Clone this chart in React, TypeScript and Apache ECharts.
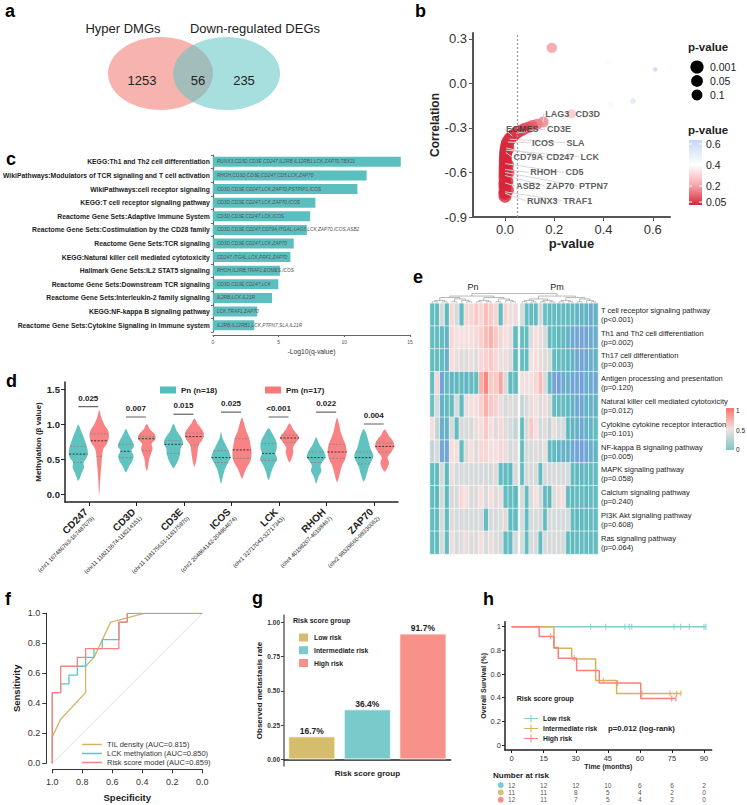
import React, { useEffect, useRef, useMemo } from "react";
import * as echarts from "echarts";

const W = 747;
const H = 805;
const FONT = "'Liberation Sans', Arial, Helvetica, sans-serif";

// ---------------- Panel a : Venn ----------------
const vennSetNames = ["Hyper DMGs", "Down-regulated DEGs"];
const vennCounts = [1253, 56, 235];

// ---------------- Panel b : correlation vs p-value ----------------
const bOtherP = [0.19, 0.42, 0.61, 0.43, 0.52];
const bOtherR = [0.24, 0.15, 0.095, -0.145, -0.118];
const bCurveP = [0.13, 0.11, 0.095, 0.08, 0.068, 0.055, 0.037, 0.024, 0.015, 0.009, 0.007, 0.012, 0.002, 0.0015, 0.001, 0.01, 0.0006, 0.012, 0.0001, 0.008, 0, 0, 0.01, 0];
const bCurveR = [-0.275, -0.285, -0.295, -0.305, -0.315, -0.325, -0.345, -0.365, -0.385, -0.405, -0.42, -0.44, -0.48, -0.5, -0.52, -0.55, -0.56, -0.6, -0.64, -0.66, -0.68, -0.7, -0.72, -0.76];
const bGenes = ["LAG3", "CD3D", "EOMES", "CD3E", "ICOS", "SLA", "CD79A", "CD247", "LCK", "RHOH", "CD5", "ASB2", "ZAP70", "PTPN7", "RUNX3", "TRAF1"];
const bGeneP = [0.155, 0.27, 0.03, 0.045, 0.012, 0.019, 0.003, 0.005, 0.004, 0.0004, 0.001, 0.0001, 0.0002, 0.0003, 0, 0];
const bGeneR = [-0.26, -0.205, -0.355, -0.335, -0.395, -0.375, -0.465, -0.435, -0.45, -0.58, -0.54, -0.67, -0.62, -0.6, -0.74, -0.73];
const bLabelP = [0.163, 0.286, 0.004, 0.17, 0.109, 0.249, 0.034, 0.167, 0.306, 0.102, 0.245, 0.045, 0.167, 0.3, 0.089, 0.236];
const bLabelR = [-0.205, -0.205, -0.307, -0.307, -0.4, -0.4, -0.495, -0.495, -0.495, -0.6, -0.6, -0.69, -0.69, -0.69, -0.79, -0.79];
const bSizeLegend = ["0.001", "0.05", "0.1"];
const bColorTicks = [0.6, 0.4, 0.2, 0.05];

// ---------------- Panel c : enrichment bars ----------------
const cPathways = [
  "KEGG:Th1 and Th2 cell differentiation",
  "WikiPathways:Modulators of TCR signaling and T cell activation",
  "WikiPathways:cell receptor signaling",
  "KEGG:T cell receptor signaling pathway",
  "Reactome Gene Sets:Adaptive Immune System",
  "Reactome Gene Sets:Costimulation by the CD28 family",
  "Reactome Gene Sets:TCR signaling",
  "KEGG:Natural killer cell mediated cytotoxicity",
  "Hallmark Gene Sets:IL2 STAT5 signaling",
  "Reactome Gene Sets:Downstream TCR signaling",
  "Reactome Gene Sets:Interleukin-2 family signaling",
  "KEGG:NF-kappa B signaling pathway",
  "Reactome Gene Sets:Cytokine Signaling in Immune system",
];
const cLogQ = [14.3, 11.7, 11.0, 7.8, 7.4, 7.15, 6.15, 5.9, 5.1, 4.98, 4.5, 3.37, 3.15];
const cGeneLists = [
  "RUNX3,CD3D,CD3E,CD247,IL2RB,IL12RB1,LCK,ZAP70,TBX21",
  "RHOH,CD3D,CD3E,CD247,CD5,LCK,ZAP70",
  "CD3D,CD3E,CD247,LCK,ZAP70,PSTPIP1,ICOS",
  "CD3D,CD3E,CD247,LCK,ZAP70,ICOS",
  "CD3D,CD3E,CD247,LCK,ICOS",
  "CD3D,CD3E,CD247,CD79A,ITGAL,LAG3,LCK,ZAP70,ICOS,ASB2",
  "CD3D,CD3E,CD247,LCK,ZAP70",
  "CD247,ITGAL,LCK,PRF1,ZAP70",
  "RHOH,IL2RB,TRAF1,EOMES,ICOS",
  "CD3D,CD3E,CD247,LCK",
  "IL2RB,LCK,IL21R",
  "LCK,TRAF1,ZAP70",
  "IL2RB,IL12RB1,LCK,PTPN7,SLA,IL21R",
];

// ---------------- Panel d : violins ----------------
const dGenes = ["CD247", "CD3D", "CD3E", "ICOS", "LCK", "RHOH", "ZAP70"];
const dRegions = [
  "(chr1 167486793-167487079)",
  "(chr11 118213674-118214151)",
  "(chr11 118175631-118175870)",
  "(chr2 204864142-204864674)",
  "(chr1 32717043-32717343)",
  "(chr4 40198207-40198467)",
  "(chr2 98329660-98330062)",
];
const dPLabels = ["0.025", "0.007", "0.015", "0.025", "<0.001", "0.022", "0.004"];
const dBracketY = [1.247, 1.1, 1.14, 1.17, 1.1, 1.17, 1.0];
const dBracketGray = [false, true, false, false, true, false, true];
const dPnProfiles = [
  [[0.99, 0], [0.9, 0.3], [0.8, 0.6], [0.7, 0.85], [0.6, 1.0], [0.52, 0.9], [0.45, 0.55], [0.38, 0.6], [0.3, 0.35], [0.19, 0]],
  [[0.93, 0], [0.85, 0.3], [0.75, 0.7], [0.68, 0.85], [0.62, 0.55], [0.55, 0.8], [0.48, 0.7], [0.4, 0.35], [0.31, 0]],
  [[1.0, 0], [0.9, 0.35], [0.8, 0.85], [0.72, 1.0], [0.65, 0.75], [0.58, 0.7], [0.5, 0.55], [0.43, 0.3], [0.37, 0]],
  [[0.89, 0], [0.8, 0.15], [0.7, 0.5], [0.6, 0.85], [0.52, 1.0], [0.45, 0.75], [0.35, 0.4], [0.25, 0.2], [0.15, 0]],
  [[0.94, 0], [0.85, 0.45], [0.75, 0.8], [0.65, 0.85], [0.58, 0.7], [0.5, 0.9], [0.42, 0.6], [0.32, 0.3], [0.2, 0]],
  [[0.81, 0], [0.72, 0.3], [0.62, 0.75], [0.53, 1.0], [0.45, 0.6], [0.4, 0.45], [0.33, 0.55], [0.25, 0.25], [0.15, 0]],
  [[0.93, 0], [0.85, 0.3], [0.75, 0.5], [0.65, 0.7], [0.55, 1.0], [0.48, 0.85], [0.4, 0.55], [0.3, 0.35], [0.18, 0]],
];
const dPmProfiles = [
  [[1.2, 0], [1.1, 0.2], [1.0, 0.5], [0.9, 0.95], [0.8, 1.0], [0.72, 0.8], [0.65, 0.45], [0.55, 0.3], [0.45, 0.25], [0.35, 0.18], [0.2, 0.1], [-0.01, 0]],
  [[1.0, 0], [0.92, 0.35], [0.85, 0.85], [0.78, 0.9], [0.72, 0.5], [0.65, 0.6], [0.58, 0.45], [0.5, 0.25], [0.4, 0.15], [0.33, 0]],
  [[1.08, 0], [1.0, 0.35], [0.92, 0.8], [0.85, 1.0], [0.78, 0.85], [0.7, 0.45], [0.62, 0.35], [0.52, 0.25], [0.45, 0.15], [0.39, 0]],
  [[1.09, 0], [1.0, 0.25], [0.9, 0.45], [0.8, 0.75], [0.7, 0.9], [0.6, 1.0], [0.5, 0.95], [0.42, 0.7], [0.35, 0.4], [0.28, 0.2], [0.22, 0]],
  [[1.01, 0], [0.93, 0.35], [0.85, 0.8], [0.8, 1.0], [0.74, 0.7], [0.66, 0.35], [0.6, 0.4], [0.52, 0.25], [0.45, 0]],
  [[1.09, 0], [1.0, 0.2], [0.9, 0.35], [0.8, 0.6], [0.7, 0.9], [0.6, 1.0], [0.5, 0.85], [0.4, 0.5], [0.3, 0.3], [0.17, 0]],
  [[0.92, 0], [0.84, 0.4], [0.75, 0.9], [0.68, 1.0], [0.6, 0.7], [0.52, 0.3], [0.45, 0.45], [0.38, 0.3], [0.32, 0]],
];
const dPnQuartiles = [[0.45, 0.57, 0.68], [0.52, 0.61, 0.71], [0.58, 0.71, 0.76], [0.45, 0.52, 0.62], [0.48, 0.58, 0.72], [0.45, 0.52, 0.6], [0.43, 0.52, 0.6]];
const dPmQuartiles = [[0.54, 0.76, 0.86], [0.62, 0.79, 0.82], [0.7, 0.82, 0.87], [0.51, 0.63, 0.79], [0.74, 0.8, 0.84], [0.51, 0.6, 0.71], [0.6, 0.68, 0.73]];

// ---------------- Panel e : heatmap ----------------
const eRowNames = [
  "T cell receptor signaling pathway",
  "Th1 and Th2 cell differentiation",
  "Th17 cell differentiation",
  "Antigen processing and presentation",
  "Natural killer cell mediated cytotoxicity",
  "Cytokine cytokine receptor interaction",
  "NF-kappa B signaling pathway",
  "MAPK signaling pathway",
  "Calcium signaling pathway",
  "PI3K Akt signaling pathway",
  "Ras signaling pathway",
];
const eRowP = ["p<0.001", "p=0.002", "p=0.003", "p=0.120", "p=0.012", "p=0.101", "p=0.005", "p=0.058", "p=0.240", "p=0.608", "p=0.064"];
const ePn = [
  [0, 0, 0.4, -0.05, 0.6, 0.4, 0, 0.6, 0.6, 0.7, 0.6, 0.75, 0.7, 0.6, 0, 0.6, 0.55, 0.5],
  [0, 0, 0, -0.1, 0.6, 0.55, 0.55, 0.55, 0.55, 0.6, 0.65, 0.75, 0.8, 0.7, 0.6, 0.55, 0.5, 0],
  [0, 0, 0, -0.15, 0.55, 0.5, 0.45, 0.45, 0.5, 0.45, 0.6, 0.65, 0.7, 0.6, 0.5, 0.5, 0.45, 0],
  [0, 0.6, -0.3, 0, -0.1, -0.05, 0, -0.1, 0, 0, 0.8, 0.95, 0.7, 0.7, 0.85, 0.4, 0, 0],
  [0.1, 0.4, -0.1, 0, 0, 0.4, 0, 0.5, 0.55, 0.55, 0.65, 0.8, 0.7, 0.65, 0.5, 0.4, 0.45, 0.4],
  [0.55, 0.35, -0.15, -0.1, 0.4, 0, 0.4, 0.4, 0.4, 0.5, 0.55, 0.7, 0.55, 0.45, 0.6, 0.45, 0.4, 0.35],
  [0.35, 0.4, -0.2, -0.25, 0.55, 0.55, 0, 0.45, 0.55, 0.45, 0.6, 0.6, 0.55, 0.55, 0.6, 0.5, 0.4, 0.45],
  [0, 0, 0.4, -0.05, 0.5, 0.4, 0.4, 0.4, 0.4, 0.4, 0.4, 0.4, 0.4, 0.45, 0, 0, -0.05, 0.4],
  [0, -0.05, 0.4, -0.05, 0.4, 0.4, 0.6, 0.55, 0.4, 0.45, 0.55, 0.4, 0.55, 0.45, 0.5, 0, 0, -0.05],
  [0, 0, 0.4, 0, 0.45, 0.4, 0.4, 0.4, 0.4, 0.4, 0.4, 0, 0.4, 0.4, 0.45, 0.45, 0, 0],
  [0, 0, 0.4, 0, 0.5, 0.4, 0.45, 0.5, 0.45, 0.45, 0.55, 0.4, 0.5, 0.45, 0.4, 0, 0, 0.4],
];
const ePm = [
  [0.4, 0, 0, 0, 0.4, 0.05, 0, 0, 0, 0, 0, 0, -0.1, -0.1, -0.1, -0.2, -0.1],
  [0, 0, 0.45, 0.55, 0.5, 0.4, 0, 0, -0.05, -0.05, -0.1, -0.2, -0.2, -0.3, -0.25, -0.2, -0.15],
  [0, 0, 0.55, 0.55, 0.5, 0.45, 0.4, 0, 0, 0, -0.05, -0.1, -0.2, -0.25, -0.2, -0.15, -0.1],
  [0.55, 0.55, 0.55, 0.6, 0.75, 0.4, 0, -0.3, -0.35, -0.2, -0.1, -0.3, -0.2, -0.4, -0.1, -0.2, -0.2],
  [0.35, 0.4, 0.5, 0.55, 0.45, 0.5, 0.4, 0, 0, 0, -0.05, -0.1, -0.2, -0.2, -0.1, -0.1, -0.1],
  [0, 0.4, 0.7, 0.55, 0.4, 0.45, 0.35, 0.5, 0.4, 0.4, -0.05, -0.1, -0.1, -0.2, -0.1, -0.1, 0],
  [0, 0.4, 0.4, 0.45, 0.4, 0.5, 0, -0.05, -0.1, -0.15, -0.1, -0.2, -0.3, -0.35, -0.2, -0.15, -0.1],
  [0, 0.4, 0.4, 0.4, 0, 0.4, 0.4, 0.4, 0.4, 0.4, 0.4, 0, -0.05, -0.1, 0, 0, 0],
  [0.4, 0, 0.45, 0.55, 0.4, 0, -0.05, 0.45, 0.5, 0.55, 0, -0.05, 0, 0, -0.05, 0, 0],
  [0.4, 0, 0.4, 0.4, 0.4, 0, 0.4, 0.4, 0.4, 0.4, 0.4, 0, -0.05, -0.05, 0, 0, 0],
  [0.4, 0, 0.4, 0.4, 0, 0.4, 0.4, 0.4, 0.4, 0.4, 0, -0.05, 0, 0, 0, 0, 0],
];

// ---------------- Panel f : ROC ----------------
const fNames = ["TIL density (AUC=0.815)", "LCK methylation (AUC=0.850)", "Risk score model (AUC=0.859)"];
const fTilSpec = [1, 1, 0.944, 0.778, 0.778, 0.722, 0.611, 0.5, 0.389, 0];
const fTilSens = [0, 0.176, 0.294, 0.471, 0.647, 0.706, 0.941, 0.97, 1, 1];
const fLckSpec = [1, 1, 0.944, 0.944, 0.889, 0.889, 0.833, 0.833, 0.778, 0.778, 0.722, 0.722, 0.667, 0.667, 0.556, 0.556, 0.5, 0.5, 0];
const fLckSens = [0, 0.471, 0.471, 0.529, 0.529, 0.588, 0.588, 0.647, 0.647, 0.706, 0.706, 0.765, 0.765, 0.824, 0.824, 0.941, 0.941, 1, 1];
const fRiskSpec = [1, 1, 0.944, 0.944, 0.833, 0.833, 0.778, 0.778, 0.556, 0.556, 0.5, 0.5, 0];
const fRiskSens = [0, 0.471, 0.471, 0.647, 0.647, 0.706, 0.706, 0.765, 0.765, 0.941, 0.941, 1, 1];

// ---------------- Panel g : metastasis rate ----------------
const gGroups = ["Low risk", "Intermediate risk", "High risk"];
const gRates = [0.167, 0.364, 0.917];

// ---------------- Panel h : Kaplan-Meier ----------------
const hGroups = ["Low risk", "Intermediate risk", "High risk"];
const hLowTimes = [0, 91];
const hLowSurv = [1, 1];
const hLowCensorT = [37, 44, 53, 55, 56.2, 76, 79.1, 83.1, 90, 90.9];
const hLowCensorS = [1, 1, 1, 1, 1, 1, 1, 1, 1, 1];
const hIntTimes = [0, 19.8, 28.1, 39.3, 49.1, 79.2];
const hIntSurv = [1, 0.818, 0.727, 0.545, 0.436, 0.436];
const hIntCensorT = [42.9, 61, 74.1, 77.2, 79.2];
const hIntCensorS = [0.545, 0.436, 0.436, 0.436, 0.436];
const hHighTimes = [0, 12.9, 19.8, 21.8, 30.4, 41, 60.4, 76.9];
const hHighSurv = [1, 0.917, 0.825, 0.733, 0.629, 0.524, 0.393, 0.393];
const hHighCensorT = [18.2, 29.3, 49.6, 74.9, 76.9];
const hHighCensorS = [0.917, 0.733, 0.524, 0.393, 0.393];
const hRiskTimes = [0, 15, 30, 45, 60, 75, 90];
const hRiskLow = [12, 12, 12, 10, 6, 6, 2];
const hRiskInt = [11, 11, 8, 5, 4, 2, 0];
const hRiskHigh = [12, 11, 7, 5, 4, 2, 0];

// ---------------- helpers ----------------
function txt(text: string, x: number, y: number, size: number, o: any = {}) {
  return {
    type: "text",
    x,
    y,
    rotation: o.rotation || 0,
    silent: true,
    z: 10,
    style: {
      text,
      fill: o.color || "#222",
      font: `${o.italic ? "italic " : ""}${o.weight || "normal"} ${size}px ${FONT}`,
      textAlign: o.align || "left",
      textVerticalAlign: "middle",
      align: o.align || "left",
      verticalAlign: "middle",
    },
  };
}
const panelLabel = (l: string, x: number, y: number) => txt(l, x, y, 18, { weight: "bold", color: "#000" });
const range = (n: number) => Array.from({ length: n }, (_, i) => i);

// ---------------- options ----------------
function buildA() {
  return {
    animation: false,
    graphic: [
      { type: "ellipse", silent: true, shape: { cx: 160.5, cy: 73.5, rx: 52.5, ry: 36.5 }, style: { fill: "#F28C84", opacity: 0.65 } },
      { type: "ellipse", silent: true, shape: { cx: 226.5, cy: 73.5, rx: 53.5, ry: 36.5 }, style: { fill: "#5EC4C4", opacity: 0.55 } },
      panelLabel("a", 5, 11),
      txt(vennSetNames[0], 123, 28, 13, { align: "center" }),
      txt(vennSetNames[1], 255, 28, 13, { align: "center" }),
      txt(String(vennCounts[0]), 142, 80, 13, { align: "center" }),
      txt(String(vennCounts[1]), 198, 80, 13, { align: "center" }),
      txt(String(vennCounts[2]), 244, 80, 13, { align: "center" }),
    ],
  };
}

function buildB() {
  const pts: number[][] = [];
  bOtherP.forEach((p, i) => pts.push([p, bOtherR[i]]));
  bCurveP.forEach((p, i) => pts.push([p, bCurveR[i]]));
  bGeneP.forEach((p, i) => pts.push([p, bGeneR[i]]));
  const sizeR = [6.6, 5.9, 5.4];
  const sizeY = [67, 81, 95];
  const tickY = [144, 165, 186, 202];
  const graphic: any[] = [panelLabel("b", 415, 11), txt("p-value", 688, 47, 11.5, { weight: "bold" }), txt("p-value", 688, 130, 11.5, { weight: "bold" })];
  bSizeLegend.forEach((s, i) => {
    graphic.push({ type: "circle", silent: true, shape: { cx: 697, cy: sizeY[i], r: sizeR[i] }, style: { fill: "#000" } });
    graphic.push(txt(s, 710, sizeY[i], 10.5));
  });
  graphic.push({
    type: "rect",
    silent: true,
    shape: { x: 689, y: 140, width: 13, height: 65 },
    style: {
      fill: new echarts.graphic.LinearGradient(0, 0, 0, 1, [
        { offset: 0, color: "#C3D7F5" },
        { offset: 0.38, color: "#FFFFFF" },
        { offset: 0.7, color: "#F5A6AB" },
        { offset: 1, color: "#D6273B" },
      ]),
    },
  });
  bColorTicks.forEach((t, i) => {
    graphic.push({ type: "line", silent: true, shape: { x1: 689, y1: tickY[i], x2: 692, y2: tickY[i] }, style: { stroke: "#fff", lineWidth: 1 } });
    graphic.push({ type: "line", silent: true, shape: { x1: 699, y1: tickY[i], x2: 702, y2: tickY[i] }, style: { stroke: "#fff", lineWidth: 1 } });
    graphic.push(txt(String(t), 706, tickY[i], 10.5));
  });
  return {
    animation: false,
    textStyle: { fontFamily: FONT },
    grid: { left: 473, top: 33, width: 197, height: 184 },
    xAxis: {
      type: "value",
      min: -0.13,
      max: 0.67,
      splitLine: { show: false },
      axisLine: { show: true, onZero: false, lineStyle: { color: "#555", width: 2 } },
      axisTick: { show: true, length: 4, customValues: [0, 0.2, 0.4, 0.6], lineStyle: { color: "#555" } },
      axisLabel: { customValues: [0, 0.2, 0.4, 0.6], formatter: (v: number) => v.toFixed(1), fontSize: 13, color: "#333", margin: 6 },
      name: "p-value",
      nameLocation: "middle",
      nameGap: 20,
      nameTextStyle: { fontSize: 13, fontWeight: "bold", color: "#222" },
    },
    yAxis: {
      type: "value",
      min: -0.9,
      max: 0.34,
      splitLine: { show: false },
      axisLine: { show: true, onZero: false, lineStyle: { color: "#555", width: 2 } },
      axisTick: { show: true, length: 4, customValues: [-0.9, -0.6, -0.3, 0, 0.3], lineStyle: { color: "#555" } },
      axisLabel: { customValues: [-0.9, -0.6, -0.3, 0, 0.3], formatter: (v: number) => v.toFixed(1), fontSize: 13, color: "#333", margin: 6 },
      name: "Correlation",
      nameLocation: "middle",
      nameGap: 31,
      nameTextStyle: { fontSize: 12, fontWeight: "bold", color: "#222" },
    },
    visualMap: [
      {
        type: "continuous",
        show: false,
        seriesIndex: 0,
        dimension: 0,
        min: 0,
        max: 0.6,
        inRange: { color: ["#D6273B", "#E45562", "#F4A3A8", "#FBD2D4", "#FFFFFF", "#E3ECFA", "#C6D8F4"] },
      },
      { type: "continuous", show: false, seriesIndex: 0, dimension: 0, min: 0, max: 0.65, inRange: { symbolSize: [13, 4] } },
    ],
    series: [
      {
        type: "scatter",
        data: pts,
        z: 2,
        silent: true,
        markLine: {
          silent: true,
          symbol: ["none", "none"],
          label: { show: false },
          lineStyle: { color: "#9a9a9a", type: [2, 2], width: 1.2 },
          data: [{ xAxis: 0.05 }],
        },
      },
      {
        type: "lines",
        coordinateSystem: "cartesian2d",
        silent: true,
        z: 3,
        lineStyle: { color: "#d6d6d6", width: 1, opacity: 1 },
        data: bGenes.map((g, i) => ({ coords: [[bGeneP[i], bGeneR[i]], [bLabelP[i] - 0.006, bLabelR[i]]] })),
      },
      {
        type: "scatter",
        silent: true,
        z: 4,
        symbolSize: 0.1,
        itemStyle: { color: "rgba(0,0,0,0)" },
        data: bGenes.map((g, i) => ({ name: g, value: [bLabelP[i], bLabelR[i]] })),
        label: { show: true, position: "right", distance: 0, formatter: "{b}", fontSize: 9, fontWeight: "bold", color: "#333" },
      },
    ],
    graphic,
  };
}

function buildC() {
  return {
    animation: false,
    textStyle: { fontFamily: FONT },
    grid: { left: 202, top: 155, width: 208, height: 177 },
    xAxis: {
      type: "value",
      min: 0,
      max: 15,
      interval: 5,
      offset: 3,
      splitLine: { show: false },
      axisLine: { show: true, lineStyle: { color: "#666", width: 1 } },
      axisTick: { show: true, length: 2, lineStyle: { color: "#666" } },
      axisLabel: { fontSize: 5, color: "#555", margin: 4 },
      name: "-Log10(q-value)",
      nameLocation: "middle",
      nameGap: 13,
      nameTextStyle: { fontSize: 6.8, color: "#333" },
    },
    yAxis: {
      type: "category",
      inverse: true,
      data: cPathways,
      axisLine: { show: true, lineStyle: { color: "#666", width: 1.2 } },
      axisTick: { show: true, length: 2, lineStyle: { color: "#666" } },
      axisLabel: { fontSize: 6.8, fontWeight: "bold", color: "#222", margin: 3 },
    },
    series: [
      {
        type: "bar",
        data: cLogQ,
        barWidth: 10,
        silent: true,
        itemStyle: { color: "#5BBFBF" },
        label: {
          show: true,
          position: "insideLeft",
          distance: 4,
          formatter: (p: any) => cGeneLists[p.dataIndex],
          fontSize: 4.8,
          fontStyle: "italic",
          color: "#555",
        },
      },
    ],
    graphic: [panelLabel("c", 6, 158.7)],
  };
}

function widthAt(prof: number[][], y: number) {
  for (let k = 0; k < prof.length - 1; k++) {
    const [y0, w0] = prof[k];
    const [y1, w1] = prof[k + 1];
    if (y <= y0 && y >= y1) return w0 + ((y0 - y) / (y0 - y1)) * (w1 - w0);
  }
  return 0;
}

function violinSeries(name: string, color: string, profiles: number[][][], quart: number[][], side: number) {
  return {
    type: "custom",
    name,
    coordinateSystem: "cartesian2d",
    itemStyle: { color },
    silent: true,
    data: dGenes.map((g, i) => [i + side * 0.22, quart[i][1]]),
    renderItem: (params: any, api: any) => {
      const i = params.dataIndex;
      const cx = i + side * 0.22;
      const prof = profiles[i];
      const s = 0.2;
      const right = prof.map(([y, w]) => api.coord([cx + w * s, y]));
      const left = prof.slice(1, -1).reverse().map(([y, w]) => api.coord([cx - w * s, y]));
      const children: any[] = [
        { type: "polygon", shape: { points: right.concat(left), smooth: 0.3 }, style: { fill: color, opacity: 0.92 } },
      ];
      quart[i].forEach((q, k) => {
        const w = widthAt(prof, q) * s;
        const a = api.coord([cx - w, q]);
        const b = api.coord([cx + w, q]);
        children.push({
          type: "line",
          shape: { x1: a[0], y1: a[1], x2: b[0], y2: b[1] },
          style: { stroke: k === 1 ? "#333" : "#8a8a8a", lineWidth: 1, lineDash: [2, 1.5] },
        });
      });
      return { type: "group", children };
    },
  };
}

function buildD() {
  const ticks = range(7);
  return {
    animation: false,
    textStyle: { fontFamily: FONT },
    grid: { left: 65, top: 382, width: 333, height: 120 },
    legend: [
      { data: ["Pn (n=18)"], left: 155, top: 381, icon: "rect", itemWidth: 16, itemHeight: 7, textStyle: { fontSize: 8, fontWeight: "bold", color: "#222" } },
      { data: ["Pm (n=17)"], left: 260, top: 381, icon: "rect", itemWidth: 16, itemHeight: 7, textStyle: { fontSize: 8, fontWeight: "bold", color: "#222" } },
    ],
    xAxis: {
      type: "value",
      min: -0.5,
      max: 6.5,
      splitLine: { show: false },
      axisLine: { show: true, onZero: false, lineStyle: { color: "#222", width: 1.5 } },
      axisTick: { show: true, customValues: ticks, length: 4, lineStyle: { color: "#222" } },
      axisLabel: {
        customValues: ticks,
        rotate: 45,
        margin: 11,
        formatter: (v: number) => `{g|${dGenes[Math.round(v)]}}\n{c|${dRegions[Math.round(v)]}}`,
        rich: {
          g: { fontSize: 10, fontWeight: "bold", color: "#222", lineHeight: 12 },
          c: { fontSize: 5.8, color: "#222", lineHeight: 8 },
        },
      },
    },
    yAxis: {
      type: "value",
      min: -0.114,
      max: 1.6,
      splitLine: { show: false },
      axisLine: { show: true, onZero: false, lineStyle: { color: "#222", width: 1.5 } },
      axisTick: { show: true, customValues: [0, 0.5, 1, 1.5], length: 4, lineStyle: { color: "#222" } },
      axisLabel: { customValues: [0, 0.5, 1, 1.5], formatter: (v: number) => v.toFixed(1), fontSize: 9.5, fontWeight: "bold", color: "#222", margin: 5 },
      name: "Methylation (β value)",
      nameLocation: "middle",
      nameGap: 19,
      nameTextStyle: { fontSize: 8, fontWeight: "bold", color: "#222" },
    },
    series: [
      violinSeries("Pn (n=18)", "#52BEBB", dPnProfiles, dPnQuartiles, -1),
      violinSeries("Pm (n=17)", "#F8777A", dPmProfiles, dPmQuartiles, 1),
      {
        type: "custom",
        name: "brackets",
        silent: true,
        data: dPLabels.map((l, i) => [i, dBracketY[i]]),
        renderItem: (params: any, api: any) => {
          const i = params.dataIndex;
          const y = dBracketY[i];
          const a = api.coord([i - 0.22, y]);
          const b = api.coord([i + 0.2, y]);
          const gray = dBracketGray[i];
          return {
            type: "group",
            children: [
              { type: "line", shape: { x1: a[0], y1: a[1], x2: b[0], y2: b[1] }, style: { stroke: gray ? "#AFAFAF" : "#444", lineWidth: gray ? 2 : 1 } },
              {
                type: "text",
                x: (a[0] + b[0]) / 2,
                y: a[1] - 8.5,
                style: { text: dPLabels[i], fill: "#222", font: `bold 8px ${FONT}`, textAlign: "center", textVerticalAlign: "middle", align: "center", verticalAlign: "middle" },
              },
            ],
          };
        },
      },
    ],
    graphic: [panelLabel("d", 6, 380.7)],
  };
}

function dendro(x0: number, colW: number, lo: number, hi: number, leafY: number, step: number, out: any[]): { x: number; y: number } {
  if (hi - lo === 1) return { x: x0 + (lo + 0.5) * colW, y: leafY };
  const mid = Math.floor((lo + hi) / 2);
  const L = dendro(x0, colW, lo, mid, leafY, step, out);
  const R = dendro(x0, colW, mid, hi, leafY, step, out);
  const y = Math.min(L.y, R.y) - step;
  out.push({
    type: "polyline",
    silent: true,
    shape: { points: [[L.x, L.y], [L.x, y], [R.x, y], [R.x, R.y]] },
    style: { stroke: "#8c8c8c", lineWidth: 0.6, fill: "none" },
  });
  return { x: (L.x + R.x) / 2, y };
}

function buildE() {
  const top = 303.3;
  const height = 250.8;
  const pnLeft = 430;
  const pnW = 88;
  const pmLeft = 520;
  const pmW = 78;
  const toData = (m: number[][]) => {
    const out: number[][] = [];
    m.forEach((row, r) => row.forEach((v, c) => out.push([c, r, v])));
    return out;
  };
  const lines: any[] = [];
  const a = dendro(pnLeft, pnW / ePn[0].length, 0, ePn[0].length, top, 1.45, lines);
  const b = dendro(pmLeft, pmW / ePm[0].length, 0, ePm[0].length, top, 1.45, lines);
  const yTop = Math.min(a.y, b.y) - 2.5;
  lines.push({ type: "polyline", silent: true, shape: { points: [[a.x, a.y], [a.x, yTop], [b.x, yTop], [b.x, b.y]] }, style: { stroke: "#8c8c8c", lineWidth: 0.6, fill: "none" } });
  const heatStyle = { borderColor: "#ffffff", borderWidth: 0.6 };
  return {
    animation: false,
    textStyle: { fontFamily: FONT },
    grid: [
      { left: pnLeft, top, width: pnW, height },
      { left: pmLeft, top, width: pmW, height },
    ],
    xAxis: [
      { type: "category", gridIndex: 0, data: range(ePn[0].length).map(String), show: false },
      { type: "category", gridIndex: 1, data: range(ePm[0].length).map(String), show: false },
    ],
    yAxis: [
      { type: "category", gridIndex: 0, data: eRowNames, inverse: true, show: false },
      {
        type: "category",
        gridIndex: 1,
        data: eRowNames,
        inverse: true,
        position: "right",
        axisLine: { show: false },
        axisTick: { show: false },
        axisLabel: { margin: 3, fontSize: 7.5, color: "#222", lineHeight: 9, formatter: (v: string, idx: number) => `${v}\n(${eRowP[idx]})` },
      },
    ],
    visualMap: {
      type: "continuous",
      show: false,
      seriesIndex: [0, 1],
      dimension: 2,
      min: -0.5,
      max: 1,
      inRange: { color: ["#7C9DE5", "#779FDC", "#6FA9D2", "#5FBABF", "#6DC1C1", "#A3CCCC", "#D6DADA", "#F5DEDE", "#FCC8C6", "#FAA49E", "#F8766D"] },
    },
    series: [
      { type: "heatmap", xAxisIndex: 0, yAxisIndex: 0, data: toData(ePn), itemStyle: heatStyle, silent: true },
      { type: "heatmap", xAxisIndex: 1, yAxisIndex: 1, data: toData(ePm), itemStyle: heatStyle, silent: true },
    ],
    graphic: [
      panelLabel("e", 413, 276.7),
      txt("Pn", 473, 287, 9, { align: "center" }),
      txt("Pm", 557, 287, 9, { align: "center" }),
      ...lines,
      {
        type: "rect",
        silent: true,
        shape: { x: 726, y: 408, width: 8, height: 42 },
        style: {
          fill: new echarts.graphic.LinearGradient(0, 0, 0, 1, [
            { offset: 0, color: "#F8766D" },
            { offset: 0.5, color: "#F2E1E1" },
            { offset: 1, color: "#7CC8C8" },
          ]),
        },
      },
      txt("1", 736, 410, 6.5),
      txt("0.5", 736, 430, 6.5),
      txt("0", 736, 449, 6.5),
    ],
  };
}

function buildF() {
  const axisCommon = {
    type: "value",
    min: 0,
    max: 1,
    interval: 0.2,
    offset: 6,
    splitLine: { show: false },
    axisLine: { show: true, onZero: false, lineStyle: { color: "#333", width: 1 } },
    axisTick: { show: true, length: 4, lineStyle: { color: "#333" } },
  };
  const mk = (sp: number[], se: number[]) => sp.map((s, i) => [s, se[i]]);
  return {
    animation: false,
    textStyle: { fontFamily: FONT },
    grid: { left: 52.3, top: 613.3, width: 150, height: 150 },
    xAxis: {
      ...axisCommon,
      inverse: true,
      axisLabel: { formatter: (v: number) => v.toFixed(1), fontSize: 9, color: "#333", margin: 8 },
      name: "Specificity",
      nameLocation: "middle",
      nameGap: 23,
      nameTextStyle: { fontSize: 9.5, fontWeight: "bold", color: "#222" },
    },
    yAxis: {
      ...axisCommon,
      axisLabel: { formatter: (v: number) => v.toFixed(1), fontSize: 9, color: "#333", margin: 6 },
      name: "Sensitivity",
      nameLocation: "middle",
      nameGap: 25,
      nameTextStyle: { fontSize: 9.5, fontWeight: "bold", color: "#222" },
    },
    legend: {
      data: fNames,
      orient: "vertical",
      left: 77,
      top: 735.5,
      icon: "rect",
      itemWidth: 20,
      itemHeight: 1.5,
      itemGap: 1,
      textStyle: { fontSize: 7.5, color: "#333" },
    },
    series: [
      { type: "line", name: "diag", data: [[1, 0], [0, 1]], symbol: "none", silent: true, lineStyle: { color: "#d4d4d4", width: 0.8 } },
      { type: "line", name: fNames[0], data: mk(fTilSpec, fTilSens), symbol: "none", silent: true, itemStyle: { color: "#D4B566" }, lineStyle: { color: "#D4B566", width: 1.3 } },
      { type: "line", name: fNames[1], data: mk(fLckSpec, fLckSens), symbol: "none", silent: true, itemStyle: { color: "#5EC4C4" }, lineStyle: { color: "#5EC4C4", width: 1.3 } },
      { type: "line", name: fNames[2], data: mk(fRiskSpec, fRiskSens), symbol: "none", silent: true, itemStyle: { color: "#F8837D" }, lineStyle: { color: "#F8837D", width: 1.3 } },
    ],
    graphic: [panelLabel("f", 5, 598.7)],
  };
}

function buildG() {
  const colors = ["#D4BE6E", "#79CBCB", "#F8918A"];
  return {
    animation: false,
    textStyle: { fontFamily: FONT },
    grid: { left: 284, top: 615, width: 166.7, height: 151 },
    legend: {
      data: gGroups,
      orient: "vertical",
      left: 292,
      top: 626.5,
      icon: "rect",
      itemWidth: 11,
      itemHeight: 10,
      itemGap: 0.8,
      textStyle: { fontSize: 6.8, fontWeight: "bold", color: "#222" },
    },
    xAxis: {
      type: "category",
      data: gGroups,
      axisLine: { show: true, lineStyle: { color: "#222", width: 1.5 } },
      axisTick: { show: false },
      axisLabel: { show: false },
      name: "Risk score group",
      nameLocation: "middle",
      nameGap: 3,
      nameTextStyle: { fontSize: 8, fontWeight: "bold", color: "#222" },
    },
    yAxis: {
      type: "value",
      min: -0.049,
      max: 1.053,
      splitLine: { show: false },
      axisLine: { show: true, onZero: false, lineStyle: { color: "#666", width: 1.5 } },
      axisTick: { show: true, customValues: [0, 0.25, 0.5, 0.75, 1], length: 3, lineStyle: { color: "#444" } },
      axisLabel: { customValues: [0, 0.25, 0.5, 0.75, 1], formatter: (v: number) => v.toFixed(2), fontSize: 6.5, fontWeight: "bold", color: "#333", margin: 4 },
      name: "Observed metastasis rate",
      nameLocation: "middle",
      nameGap: 18,
      nameTextStyle: { fontSize: 8, fontWeight: "bold", color: "#222" },
    },
    series: gGroups.map((g, i) => ({
      type: "bar",
      name: g,
      stack: "all",
      barWidth: 47,
      silent: true,
      itemStyle: { color: colors[i], borderColor: "#fff", borderWidth: 0.8 },
      data: gGroups.map((_, j) => (j === i ? gRates[i] : "-")),
      label: {
        show: true,
        position: "top",
        distance: 1,
        formatter: (p: any) => `${(p.value * 100).toFixed(1)}%`,
        fontSize: 8.5,
        fontWeight: "bold",
        color: "#222",
      },
    })),
    graphic: [panelLabel("g", 252, 597.7), txt("Risk score group", 293, 620, 7, { weight: "bold" })],
  };
}

function buildH() {
  const colors = ["#7ECFCF", "#D4B25C", "#F8817A"];
  const dotColors = ["#5BC0C0", "#CFAE4F", "#F8766D"];
  const times = [hLowTimes, hIntTimes, hHighTimes];
  const surv = [hLowSurv, hIntSurv, hHighSurv];
  const cT = [hLowCensorT, hIntCensorT, hHighCensorT];
  const cS = [hLowCensorS, hIntCensorS, hHighCensorS];
  const risk = [hRiskLow, hRiskInt, hRiskHigh];
  const xTicks = [0, 15, 30, 45, 60, 75, 90];
  const yTicks = [0, 0.2, 0.4, 0.6, 0.8, 1];
  const series: any[] = [];
  hGroups.forEach((g, i) => {
    series.push({
      type: "line",
      name: g,
      step: "end",
      symbol: "none",
      silent: true,
      data: times[i].map((t, k) => [t, surv[i][k]]),
      itemStyle: { color: colors[i] },
      lineStyle: { color: colors[i], width: 1.5 },
    });
  });
  hGroups.forEach((g, i) => {
    series.push({
      type: "scatter",
      name: g + " censored",
      symbol: "rect",
      symbolSize: [1.2, 6],
      silent: true,
      itemStyle: { color: colors[i] },
      data: cT[i].map((t, k) => [t, cS[i][k]]),
    });
  });
  hGroups.forEach((g, i) => {
    series.push({
      type: "scatter",
      name: g + " at risk",
      xAxisIndex: 1,
      yAxisIndex: 1,
      symbolSize: 0.1,
      silent: true,
      itemStyle: { color: "rgba(0,0,0,0)" },
      data: hRiskTimes.map((t, k) => [t, i, risk[i][k]]),
      label: { show: true, position: "inside", formatter: (p: any) => String(p.value[2]), fontSize: 6.5, lineHeight: 6.5, color: "#222" },
    });
  });
  series.push({
    type: "scatter",
    name: "risk dots",
    xAxisIndex: 1,
    yAxisIndex: 1,
    clip: false,
    symbolSize: 6,
    silent: true,
    data: hGroups.map((g, i) => ({ value: [-5.1, i], itemStyle: { color: dotColors[i] } })),
  });
  return {
    animation: false,
    textStyle: { fontFamily: FONT },
    grid: [
      { left: 505, top: 621.7, width: 206.7, height: 128.3 },
      { left: 505, top: 781.5, width: 206.7, height: 21.9 },
    ],
    xAxis: [
      {
        type: "value",
        gridIndex: 0,
        min: -3.1,
        max: 93.6,
        splitLine: { show: false },
        axisLine: { show: true, onZero: false, lineStyle: { color: "#222", width: 1.5 } },
        axisTick: { show: true, customValues: xTicks, length: 3, lineStyle: { color: "#222" } },
        axisLabel: { customValues: xTicks, fontSize: 7.5, color: "#333", margin: 4 },
        name: "Time (months)",
        nameLocation: "middle",
        nameGap: 10,
        nameTextStyle: { fontSize: 7, fontWeight: "bold", color: "#222" },
      },
      { type: "value", gridIndex: 1, min: -3.1, max: 93.6, show: false },
    ],
    yAxis: [
      {
        type: "value",
        gridIndex: 0,
        min: -0.042,
        max: 1.042,
        splitLine: { show: false },
        axisLine: { show: true, onZero: false, lineStyle: { color: "#222", width: 1.5 } },
        axisTick: { show: true, customValues: yTicks, length: 3, lineStyle: { color: "#222" } },
        axisLabel: {
          customValues: yTicks,
          formatter: (v: number) => (v === 0 ? "0" : v === 1 ? "1" : v.toFixed(1)),
          fontSize: 7.5,
          color: "#333",
          margin: 4,
        },
        name: "Overall Survival (%)",
        nameLocation: "middle",
        nameGap: 13,
        nameTextStyle: { fontSize: 7, fontWeight: "bold", color: "#222" },
      },
      { type: "category", gridIndex: 1, data: hGroups, inverse: true, show: false },
    ],
    legend: {
      data: hGroups,
      orient: "vertical",
      left: 519,
      top: 709.5,
      itemWidth: 14,
      itemHeight: 8,
      itemGap: 2,
      icon: "path://M0,3.5H14V4.5H0Z M6.5,0H7.5V8H6.5Z",
      textStyle: { fontSize: 6.8, fontWeight: "bold", color: "#222" },
    },
    series,
    graphic: [
      panelLabel("h", 483, 598.7),
      txt("Risk score group", 516.7, 698.3, 7, { weight: "bold" }),
      txt("p=0.012 (log-rank)", 608, 728.3, 7.8, { weight: "bold" }),
      txt("Number at risk", 493, 775.5, 8, { weight: "bold" }),
    ],
  };
}

function Chart({ option }: { option: any }) {
  const ref = useRef<HTMLDivElement | null>(null);
  useEffect(() => {
    if (!ref.current) return;
    const chart = echarts.init(ref.current, null, { renderer: "svg" });
    chart.setOption(option);
    return () => chart.dispose();
  }, [option]);
  return <div ref={ref} style={{ position: "absolute", left: 0, top: 0, width: W, height: H }} />;
}

export default function App() {
  const options = useMemo(() => [buildA(), buildB(), buildC(), buildD(), buildE(), buildF(), buildG(), buildH()], []);
  return (
    <div style={{ position: "absolute", left: 0, top: 0, width: W, height: H, background: "#fff", overflow: "hidden" }}>
      {options.map((o, i) => (
        <Chart key={i} option={o} />
      ))}
    </div>
  );
}
